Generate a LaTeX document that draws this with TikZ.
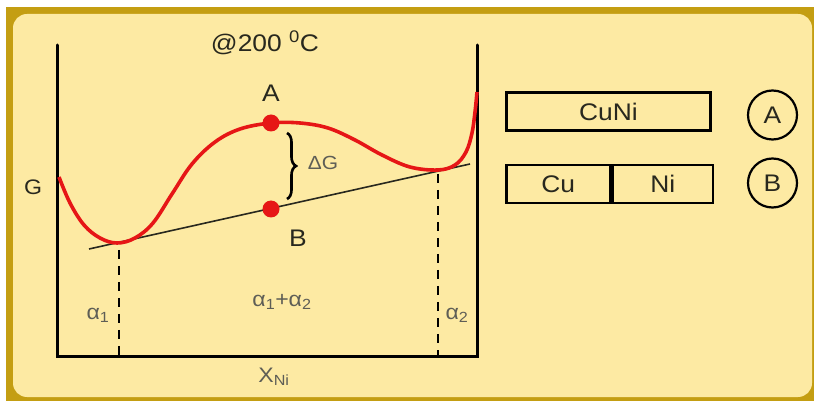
\documentclass[tikz,border=0pt]{standalone}
\usepackage{fontspec}
\setmainfont{Liberation Sans}[FakeStretch=1.1]
\usetikzlibrary{positioning, decorations.pathreplacing}

\definecolor{panel}{RGB}{253,234,163}
\definecolor{frame}{RGB}{196,158,18}
\definecolor{ink}{RGB}{40,40,30}
\definecolor{curvered}{RGB}{230,22,22}

\begin{document}
\begin{tikzpicture}[
    x=1pt, y=-1pt,
    txt/.style={text=ink, inner sep=0pt, font=\fontsize{24}{28}\selectfont},
    small/.style={text=ink!75, inner sep=0pt, font=\fontsize{21}{24}\selectfont},
    dot/.style={circle, fill=curvered, inner sep=0pt, minimum size=17pt},
    cell/.style={rectangle, draw=black, line width=2.6pt, minimum height=38pt, inner sep=0pt, text=ink, font=\fontsize{24}{28}\selectfont},
    tag/.style={circle, draw=black, line width=2.2pt, minimum size=49pt, inner sep=0pt, text=ink, font=\fontsize{24}{28}\selectfont},
    axis/.style={line width=3pt, line cap=round},
    guide/.style={line width=1.8pt, dash pattern=on 9pt off 7pt},
    tangent/.style={line width=1.6pt, draw=ink},
    energy/.style={line width=3.6pt, draw=curvered}
]
% background and panel
\useasboundingbox (0,0) rectangle (814,403);
\fill[white] (0,0) rectangle (814,403);
\fill[frame] (6,7) rectangle (814,401);
\fill[panel, rounded corners=14pt] (13,14) rectangle (812,397);

% axes
\coordinate (ytop) at (57,45);
\coordinate (origin) at (57,356);
\coordinate (xend) at (477,356);
\coordinate (rtop) at (477,45);
\draw[axis] (ytop) -- (origin) -- (xend) -- (rtop);

% common tangent
\coordinate (t1) at (89,249);
\coordinate (t2) at (470,164);
\draw[tangent] (t1) -- (t2);

% free energy curve
\draw[energy] plot[smooth, tension=0.6] coordinates {(59,177) (70,203) (84,225) (100,238) (117,243) (135,238) (153,223) (172,194) (192,164) (215,142) (240,129) (271,123) (300,123) (328,128) (355,140) (382,155) (410,167) (438,170) (455,165) (466,152) (472,133) (475,112) (477,92)};

% phase boundaries
\coordinate (m1) at (119,250);
\coordinate (f1) at (119,356);
\coordinate (m2) at (438,174);
\coordinate (f2) at (438,356);
\draw[guide] (m1) -- (f1);
\draw[guide] (m2) -- (f2);

% points A and B
\node[dot] (dotA) at (271,123) {};
\node[dot] (dotB) at (271,209) {};
\node[txt, above=13pt of dotA] (labA) {A};
\node[txt] (labB) at (298,238) {B};

% gap
\coordinate (bt) at (287,133);
\coordinate (bb) at (287,199);
\draw[line width=2.6pt, decorate, decoration={brace, amplitude=9pt}] (bt) -- (bb);
\node[small, font=\fontsize{19}{22}\selectfont] (dG) at (323,163) {ΔG};

% axis labels
\node[txt, font=\fontsize{21}{24}\selectfont] (G) at (33,187) {G};
\node[small] (x) at (274,377) {X\textsubscript{Ni}};
\node[txt] (title) at (265,43) {@200 \textsuperscript{0}C};

% phase labels
\node[small] (a1) at (98,315) {α\textsubscript{1}};
\node[small] (a12) at (282,302) {α\textsubscript{1}+α\textsubscript{2}};
\node[small] (a2) at (457,315) {α\textsubscript{2}};

% structures
\node[cell, minimum width=204pt] (cuni) at (608.5,111.5) {CuNi};
\node[cell, minimum width=103.5pt] (cu) at (558.25,184) {Cu};
\node[cell, minimum width=100.5pt, right=0pt of cu] (ni) {Ni};
\node[tag] (tagA) at (772.5,115) {A};
\node[tag] (tagB) at (772.5,183) {B};
\end{tikzpicture}
\end{document}
